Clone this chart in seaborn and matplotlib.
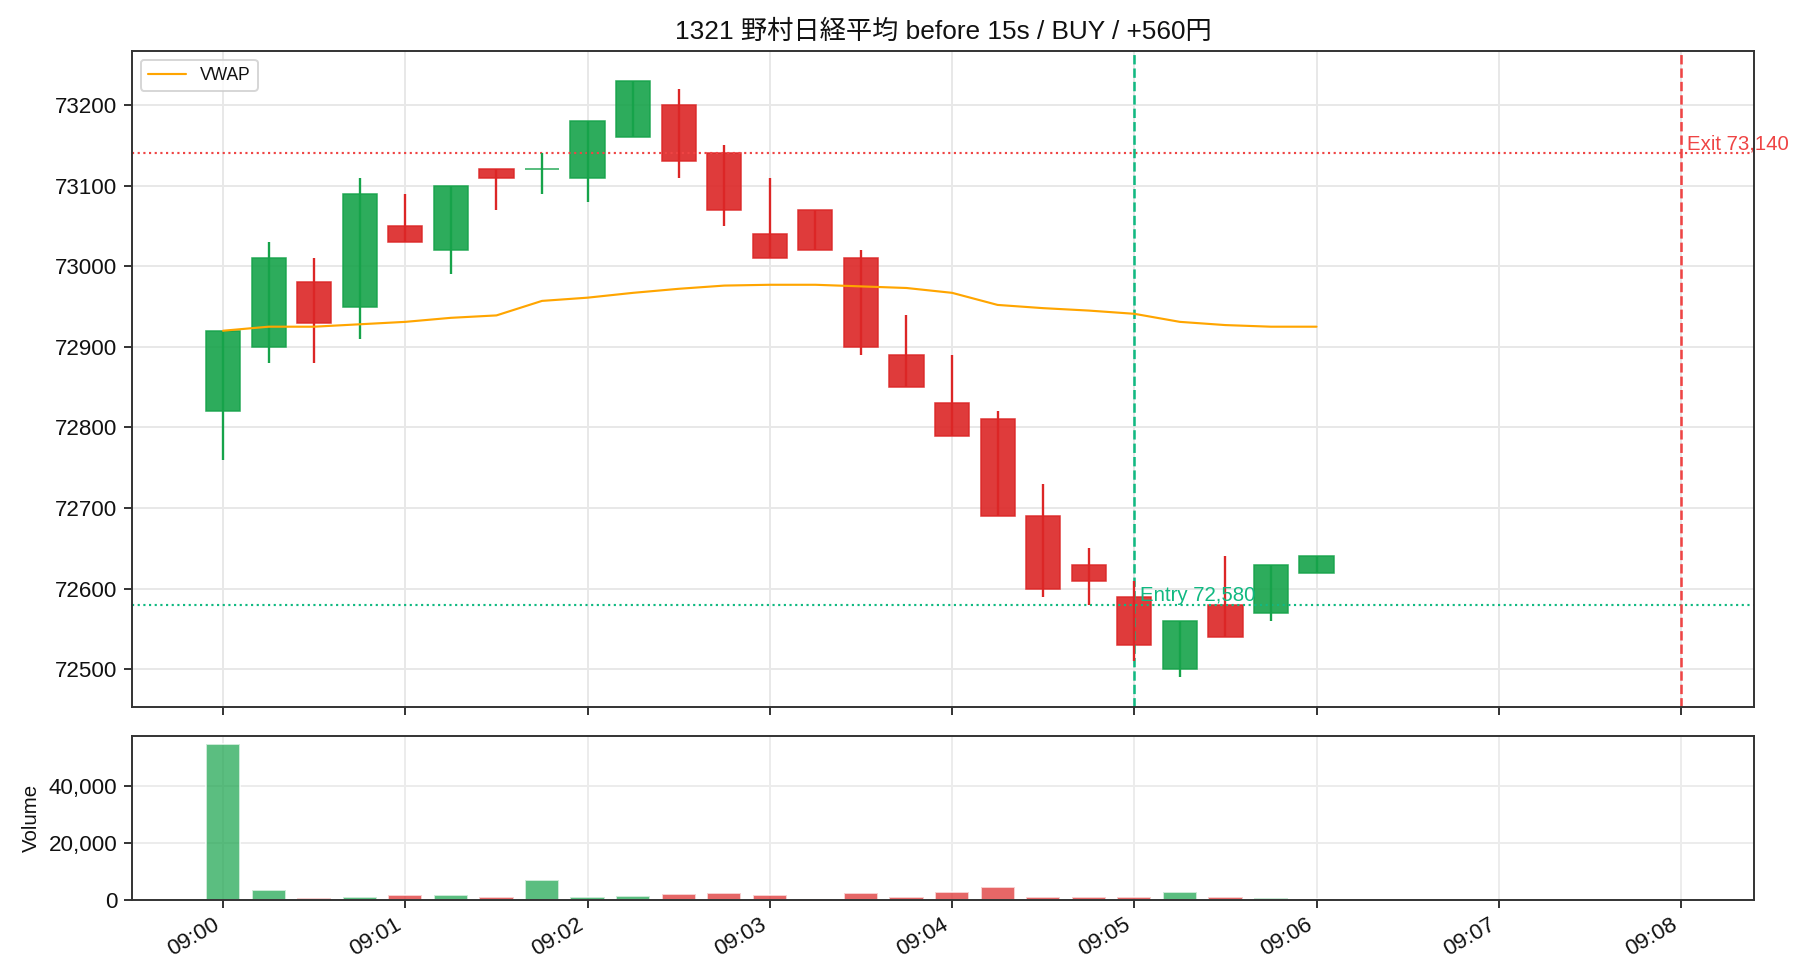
import numpy as np
import pandas as pd
import matplotlib
matplotlib.use("Agg")
import matplotlib.pyplot as plt
import matplotlib.dates as mdates
from matplotlib.ticker import FuncFormatter
import seaborn as sns

# ---------------- data ----------------
times = ["09:00:00", "09:00:15", "09:00:30", "09:00:45",
         "09:01:00", "09:01:15", "09:01:30", "09:01:45",
         "09:02:00", "09:02:15", "09:02:30", "09:02:45",
         "09:03:00", "09:03:15", "09:03:30", "09:03:45",
         "09:04:00", "09:04:15", "09:04:30", "09:04:45",
         "09:05:00", "09:05:15", "09:05:30", "09:05:45",
         "09:06:00"]
opens  = [72820, 72900, 72980, 72950, 73050, 73020, 73120, 73120, 73110, 73160,
          73200, 73140, 73040, 73070, 73010, 72890, 72830, 72810, 72690, 72630,
          72590, 72500, 72580, 72570, 72620]
highs  = [72920, 73030, 73010, 73110, 73090, 73100, 73120, 73140, 73180, 73230,
          73220, 73150, 73110, 73070, 73020, 72940, 72890, 72820, 72730, 72650,
          72610, 72560, 72640, 72630, 72640]
lows   = [72760, 72880, 72880, 72910, 73030, 72990, 73070, 73090, 73080, 73160,
          73110, 73050, 73010, 73020, 72890, 72850, 72790, 72690, 72590, 72580,
          72510, 72490, 72540, 72560, 72620]
closes = [72920, 73010, 72930, 73090, 73030, 73100, 73110, 73120, 73180, 73230,
          73130, 73070, 73010, 73020, 72900, 72850, 72790, 72690, 72600, 72610,
          72530, 72560, 72540, 72630, 72640]
volumes = [55000, 3700, 600, 900, 1600, 1900, 900, 7200, 1200, 1500,
           2200, 2600, 1900, 200, 2600, 900, 2900, 4700, 900, 900,
           900, 2700, 900, 550, 200]
vwap = [72920, 72925, 72925, 72928, 72931, 72936, 72939, 72957, 72961, 72967,
        72972, 72976, 72977, 72977, 72975, 72973, 72967, 72952, 72948, 72945,
        72941, 72931, 72927, 72925, 72925]

entry_time, entry_price = "09:05:00", 72580
exit_time, exit_price = "09:08:00", 73140
title = "1321 野村日経平均 before 15s / BUY / +560円"

# ---------------- style ----------------
sns.set_theme(style="ticks")
plt.rcParams["font.family"] = ["Liberation Sans", "Noto Sans CJK JP", "DejaVu Sans"]
plt.rcParams["axes.edgecolor"] = "#333333"
plt.rcParams["axes.linewidth"] = 1.0
plt.rcParams["text.color"] = "#111111"
plt.rcParams["axes.labelcolor"] = "#111111"
plt.rcParams["xtick.labelcolor"] = "#111111"
plt.rcParams["ytick.labelcolor"] = "#111111"

GREEN = "#16a34a"
RED = "#dc2626"
ENTRY_C = "#10b981"
EXIT_C = "#ef4444"

day = pd.Timestamp("2024-01-04")
def ts(t):
    return pd.Timestamp(f"{day.date()} {t}")

df = pd.DataFrame({
    "time": [ts(t) for t in times],
    "open": opens, "high": highs, "low": lows, "close": closes,
    "volume": volumes, "vwap": vwap,
})
df["x"] = mdates.date2num(df["time"])
df["up"] = df["close"] >= df["open"]
df["color"] = np.where(df["up"], GREEN, RED)

width = 11.25 / 86400.0

fig = plt.figure(figsize=(13, 7), dpi=140)
gs = fig.add_gridspec(2, 1, height_ratios=[4, 1], hspace=0.07,
                      left=0.0725, right=0.9637, top=0.948, bottom=0.0816)
ax = fig.add_subplot(gs[0])
axv = fig.add_subplot(gs[1], sharex=ax)

# candles
ax.vlines(df["x"], df["low"], df["high"], colors=df["color"], linewidth=1.2, zorder=3)
body_bottom = np.minimum(df["open"], df["close"])
body_h = np.abs(df["close"] - df["open"])
ax.bar(df["x"], body_h, width=width, bottom=body_bottom, color=df["color"],
       edgecolor=df["color"], linewidth=0.8, alpha=0.9, zorder=2)

# VWAP
sns.lineplot(x=df["x"], y=df["vwap"], ax=ax, color="orange", linewidth=1.1,
             label="VWAP", zorder=4)

# entry / exit lines
ex_x = mdates.date2num(ts(exit_time))
en_x = mdates.date2num(ts(entry_time))
ax.axhline(entry_price, color=ENTRY_C, linestyle=":", linewidth=1.1)
ax.axhline(exit_price, color=EXIT_C, linestyle=":", linewidth=1.1)
ax.axvline(en_x, color=ENTRY_C, linestyle="--", linewidth=1.3)
ax.axvline(ex_x, color=EXIT_C, linestyle="--", linewidth=1.3)
ax.text(en_x + 2 / 86400, entry_price, f"Entry {entry_price:,}", color=ENTRY_C,
        fontsize=10.5, va="bottom", ha="left")
ax.text(ex_x + 2 / 86400, exit_price, f"Exit {exit_price:,}", color=EXIT_C,
        fontsize=10.5, va="bottom", ha="left", clip_on=False)

ax.legend(loc="upper left", fontsize=9, frameon=True, handlelength=2.2)
ax.grid(True, color="#e8e8e8", linewidth=1.0)
ax.set_axisbelow(True)
ax.set_xlabel("")
ax.set_ylabel("")
ax.set_title(title, fontsize=13.5)
ax.tick_params(axis="x", labelbottom=False)
ax.set_yticks([72500, 72600, 72700, 72800, 72900, 73000, 73100, 73200])

# volume
vcolors = np.where(df["up"], GREEN, RED)
axv.bar(df["x"], df["volume"], width=width, color=vcolors, alpha=0.7, zorder=2)
axv.set_ylabel("Volume", fontsize=10.5)
axv.yaxis.set_major_formatter(FuncFormatter(lambda v, p: f"{int(v):,}"))
axv.set_yticks([0, 20000, 40000])
axv.grid(True, color="#ececec", linewidth=1.0)
axv.set_axisbelow(True)

x0 = mdates.date2num(ts("09:00:00")) - 30 / 86400
x1 = mdates.date2num(ts("09:08:00")) + 24 / 86400
ax.set_xlim(x0, x1)
axv.xaxis.set_major_locator(mdates.MinuteLocator())
axv.xaxis.set_major_formatter(mdates.DateFormatter("%H:%M"))
for lab in axv.get_xticklabels():
    lab.set_rotation(30)
    lab.set_ha("right")

for a in (ax, axv):
    a.tick_params(axis="both", labelsize=11.5, length=4, width=1.0, color="#333333")
    for s in a.spines.values():
        s.set_visible(True)

fig.savefig("out.png", dpi=140)
